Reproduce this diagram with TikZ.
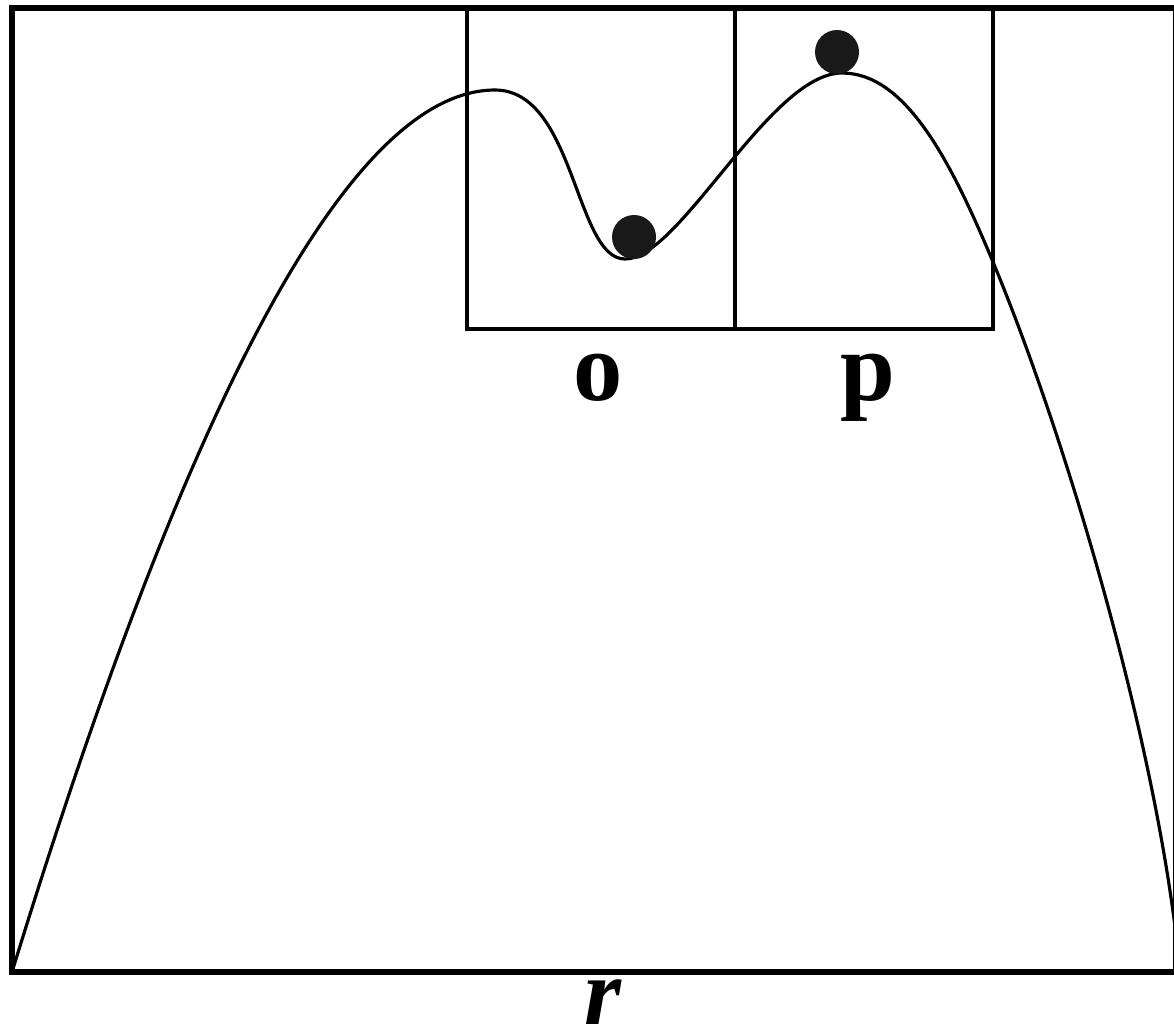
\documentclass[tikz,border=0pt]{standalone}
\usepackage{fontspec}
\setmainfont{Liberation Serif}
\begin{document}
\begin{tikzpicture}[
                x=0.01cm, y=-0.01cm,
                wellFrame/.style={draw=black,line width=1.45pt},
                wellBox/.style={draw=black,line width=1pt},
                wellCurve/.style={draw=black,line width=0.9pt},
                wellBall/.style={circle,fill=black!90,draw=none,
                                 minimum size=0.44cm,inner sep=0pt},
                wellLabel/.style={anchor=base,inner sep=0pt,
                                  font=\fontsize{28}{28}\selectfont\bfseries}]
                \useasboundingbox (0,0) rectangle (1174,1035);
                % frame and the two boxes
                \draw[wellFrame] (12,8) rectangle (1176,972);
                \draw[wellBox] (467,8) rectangle (735,329);
                \draw[wellBox] (735,8) rectangle (993,329);
                % potential
                \coordinate (startPt) at (12,972);
                \coordinate (leftMax) at (495,90);
                \coordinate (wellMin) at (625,259);
                \coordinate (rightMax) at (842,73);
                \coordinate (boxCut) at (993,262);
                \coordinate (endPt) at (1176,935);
                \draw[wellCurve] (startPt)
                    .. controls (200,360) and (360,90) .. (leftMax)
                    .. controls (575,90) and (575,259) .. (wellMin)
                    .. controls (680,259) and (770,73) .. (rightMax)
                    .. controls (905,73) and (950,159) .. (boxCut)
                    .. controls (1063,430) and (1150,720) .. (endPt);
                \node[wellBall] (ballLow) at (634,237) {};
                \node[wellBall] (ballTop) at (837,52) {};
                % labels
                \node[wellLabel] (labO) at (598,400) {o};
                \node[wellLabel] (labP) at (868,400) {p};
                \node[wellLabel,font=\fontsize{27}{27}\selectfont\bfseries\itshape]
                    (labR) at (603,1024) {r};
            \end{tikzpicture}
\end{document}
